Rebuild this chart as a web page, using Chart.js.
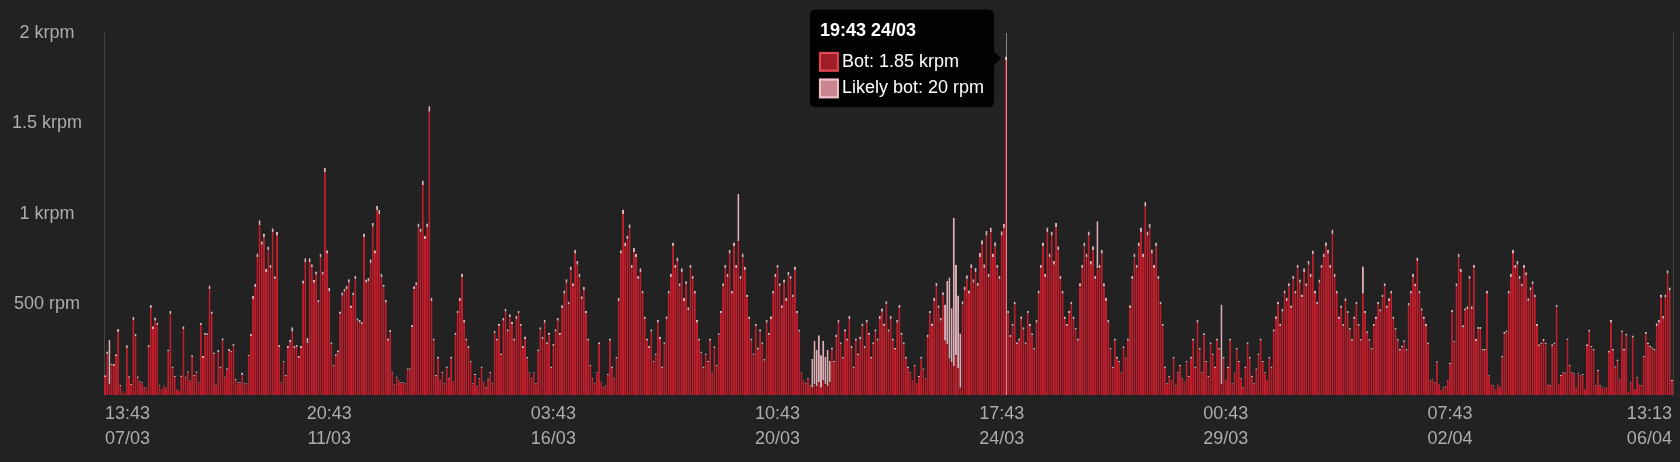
<!DOCTYPE html>
<html>
<head>
<meta charset="utf-8">
<script src="https://cdn.jsdelivr.net/npm/chart.js@4.4.1/dist/chart.umd.min.js"></script>
<style>
  html, body { margin: 0; padding: 0; background: #222; }
  #wrap { width: 1680px; height: 462px; position: relative; }
</style>
</head>
<body>
<div id="wrap"><canvas id="myChart"></canvas></div>
<script>
// requests per minute, one row per day (first bar = 13:43 07/03)
const botRpm = [
  100,225,60,165,160,215,345,50,20,10,260,96,55,415,325,96,70,65,40,37,265,478,365,410,
  385,52,28,48,37,240,446,150,100,28,20,100,365,96,123,75,210,105,123,65,385,205,330,330,
  585,446,225,52,237,150,300,96,140,243,235,270,83,65,65,110,60,60,213,325,530,595,760,940,
  830,870,680,800,700,900,640,880,265,65,180,105,260,290,350,260,265,205,260,615,735,285,735,705,
  620,665,510,760,665,1230,780,575,280,160,215,235,446,548,570,585,620,480,550,640,410,400,390,870,
  620,630,730,930,780,1020,1000,650,595,510,300,345,123,55,96,75,65,65,60,140,140,373,585,605,
  925,900,1160,860,925,1565,520,300,105,200,80,120,60,150,90,200,70,330,450,520,650,400,300,260,
  180,60,110,45,90,150,70,40,85,120,60,340,300,380,220,410,460,350,430,390,300,420,450,380,
  260,310,200,120,90,120,60,240,360,310,400,280,330,150,270,350,410,330,480,560,620,500,690,600,
  780,720,650,530,580,450,300,160,90,60,120,280,70,40,50,110,300,150,90,200,520,780,1000,820,
  860,920,700,790,760,640,680,560,420,300,260,350,180,220,400,310,150,280,420,560,650,820,700,740,
  600,680,520,610,470,700,640,560,400,300,230,150,220,180,300,120,260,160,330,450,600,700,650,780,
  560,820,700,850,640,760,690,540,420,300,220,380,250,350,280,190,400,330,420,560,650,700,600,480,
  620,520,660,640,540,690,450,350,120,80,60,90,50,40,60,50,70,40,80,60,50,70,250,180,
  320,400,280,200,350,300,420,260,150,300,220,310,380,260,400,330,200,280,350,300,420,460,380,500,
  350,420,300,250,400,480,330,280,200,150,120,80,160,60,100,200,140,90,320,450,380,520,600,480,
  410,550,300,280,200,180,160,220,150,40,500,580,640,560,700,620,680,600,760,830,700,880,650,900,
  760,820,700,640,880,920,1850,450,320,380,500,280,300,420,360,280,450,380,330,250,400,560,700,820,
  650,900,760,880,720,925,800,640,560,420,380,450,500,420,360,300,600,700,820,760,880,720,800,640,
  700,700,780,600,520,400,250,150,300,200,180,120,260,200,300,480,640,760,700,820,900,760,1040,880,
  920,780,700,820,640,500,380,150,60,100,80,200,50,120,160,90,70,180,100,200,300,150,400,250,
  120,330,180,100,280,220,150,300,250,60,200,80,150,300,60,120,250,180,90,40,150,280,200,100,
  60,140,220,300,180,120,80,200,150,350,420,500,380,460,560,520,600,480,640,560,700,620,540,680,
  600,720,650,777,560,500,620,700,760,820,780,700,890,650,560,420,480,380,520,450,360,300,420,500,
  380,300,560,450,340,300,250,380,420,500,460,540,600,480,520,560,420,360,300,244,262,290,244,493,
  560,650,600,740,560,465,420,382,280,77,86,68,178,59,22,40,46,77,170,456,290,600,760,680,
  373,465,475,640,475,700,299,364,364,244,244,560,105,59,50,31,59,40,207,336,345,560,650,780,
  700,720,640,600,700,660,520,580,610,540,382,271,280,299,280,59,50,271,280,484,59,105,123,118,
  303,160,123,114,40,118,105,110,31,271,350,262,244,50,133,50,40,40,40,234,400,244,151,188,
  86,345,244,327,18,68,317,31,96,59,50,207,336,280,262,253,244,382,400,537,421,537,670,576,
  78
];
const likelyBotRpm = [
  10,15,245,8,12,10,20,5,4,3,15,8,6,18,12,8,6,5,4,4,12,20,15,18,
  15,5,3,5,4,12,18,8,6,3,3,8,15,6,8,5,10,6,8,5,15,10,14,12,
  20,16,10,5,12,8,14,6,8,12,10,12,6,5,5,15,5,5,10,14,18,20,22,25,
  20,22,18,20,18,22,16,20,12,5,10,6,12,14,25,12,12,10,12,18,20,30,20,18,
  16,18,15,20,18,25,20,16,12,8,10,12,16,18,16,18,20,15,16,18,14,14,12,22,
  18,16,20,22,20,25,22,18,16,15,12,14,6,5,6,5,5,5,5,8,8,14,16,18,
  22,20,25,20,22,30,16,12,6,10,5,8,5,8,6,10,5,14,16,18,20,15,12,12,
  10,5,6,4,6,8,5,4,6,8,5,14,12,14,10,15,16,14,16,15,12,16,16,14,
  12,14,10,6,5,6,5,12,14,12,15,12,14,8,12,14,16,14,16,18,20,16,20,18,
  22,20,18,16,18,15,12,8,5,5,6,12,5,4,4,6,12,8,5,10,16,20,25,22,
  22,24,20,22,20,18,20,16,14,12,12,14,10,10,15,12,8,12,15,16,18,22,20,20,
  18,20,16,18,15,20,18,16,14,12,10,8,10,10,12,6,10,8,12,15,18,20,18,22,
  16,22,20,260,18,22,20,16,14,12,10,14,12,14,12,10,15,14,15,16,18,20,18,16,
  18,16,20,18,16,20,14,12,6,5,5,5,4,160,240,200,260,180,220,150,200,120,12,10,
  14,15,12,10,14,12,16,12,8,12,10,14,15,12,15,14,10,12,14,12,16,18,15,18,
  14,16,12,10,15,18,14,12,10,8,6,5,8,4,6,10,8,5,14,16,15,18,20,16,
  15,18,200,350,450,300,820,500,400,300,18,20,22,18,22,20,22,20,24,25,22,26,20,26,
  22,24,20,18,25,26,20,16,12,14,16,12,12,15,14,12,16,14,12,10,14,18,20,22,
  20,25,22,24,20,26,22,18,16,14,12,15,16,14,12,12,18,20,22,20,24,20,22,18,
  260,20,22,18,16,14,10,8,12,10,8,6,10,8,12,16,18,22,20,22,25,22,28,24,
  25,22,20,22,18,16,14,8,5,6,5,10,4,6,8,5,5,8,6,10,12,8,14,10,
  6,12,8,6,12,10,8,12,10,440,10,5,8,12,5,6,10,8,5,4,8,12,10,6,
  5,8,10,12,8,6,5,10,8,14,15,16,14,16,18,16,18,15,18,16,20,18,16,20,
  18,20,18,22,16,15,18,20,22,24,22,20,25,18,16,14,15,12,15,14,12,10,14,16,
  12,10,150,14,12,10,10,12,14,15,14,16,18,14,15,16,14,12,10,10,10,12,10,16,
  16,18,16,20,16,14,14,12,10,5,5,4,8,4,3,4,4,5,8,15,10,18,20,18,
  12,15,15,18,15,20,10,12,12,10,10,16,5,4,4,3,4,3,8,12,12,16,18,22,
  20,20,18,16,20,18,15,16,18,15,12,10,10,10,10,4,4,10,10,15,4,6,6,6,
  10,8,6,6,3,6,5,6,3,10,12,10,10,4,6,4,3,3,3,10,14,10,8,8,
  5,12,10,12,2,4,12,3,5,4,4,8,12,10,10,10,10,14,14,18,15,18,20,18,
  5
];
const yTicks = [500, 1000, 1500, 2000];
const tickEvery = 103;   // hours between x labels
const hoverIndex = 414;  // 19:43 24/03

// hourly labels from 13:43 07/03, the last sample is the current partial one
const labels = [];
const start = Date.UTC(2024, 2, 7, 13, 43);
function pad(n) { return String(n).padStart(2, '0'); }
for (let i = 0; i < 720; i++) {
  const d = new Date(start + i * 3600000);
  labels.push([pad(d.getUTCHours()) + ':' + pad(d.getUTCMinutes()), pad(d.getUTCDate()) + '/' + pad(d.getUTCMonth() + 1)]);
}
labels.push(['13:13', '06/04']);
const lastIndex = labels.length - 1;

function rpm(v) {
  if (v >= 1000) return (Math.round(v / 10) / 100) + ' krpm';
  return v + ' rpm';
}

Chart.defaults.font.family = '"Liberation Sans", Helvetica, Arial, sans-serif';
Chart.defaults.font.size = 18;
Chart.defaults.color = '#adadad';

const hoverLine = {
  id: 'hoverLine',
  afterDatasetsDraw(chart) {
    const act = chart.tooltip.getActiveElements();
    if (!act.length) return;
    const x = Math.round(act[0].element.x) + 0.5;
    const area = chart.chartArea;
    const ctx = chart.ctx;
    ctx.save();
    ctx.strokeStyle = 'rgba(255,255,255,0.45)';
    ctx.lineWidth = 1;
    ctx.beginPath();
    ctx.moveTo(x, area.top);
    ctx.lineTo(x, area.bottom);
    ctx.stroke();
    ctx.restore();
  }
};

const swatches = [
  { backgroundColor: '#a01c28', borderColor: '#e2414d' },
  { backgroundColor: '#c8858f', borderColor: '#efc0c6' }
];

var ctx = document.getElementById('myChart').getContext('2d');
var myChart = new Chart(ctx, {
  type: 'bar',
  data: {
    labels: labels,
    datasets: [{
      label: 'Bot',
      data: botRpm,
      backgroundColor: '#8a141e',
      borderColor: '#c21d2b',
      borderWidth: 1
    }, {
      label: 'Likely bot',
      data: likelyBotRpm,
      backgroundColor: '#b07880',
      borderColor: '#deb0b6',
      borderWidth: 1
    }]
  },
  plugins: [hoverLine],
  options: {
    responsive: true,
    maintainAspectRatio: false,
    animation: false,
    events: [],
    layout: { padding: { top: 33, right: 7, bottom: 4, left: 0 } },
    datasets: { bar: { categoryPercentage: 1, barPercentage: 0.92 } },
    interaction: { mode: 'index', intersect: false },
    scales: {
      x: {
        stacked: true,
        grid: { display: false, drawTicks: false },
        border: { display: false },
        afterBuildTicks(scale) {
          scale.ticks = scale.ticks.filter(t => t.value % tickEvery === 0 || t.value === lastIndex);
        },
        ticks: {
          autoSkip: false,
          maxRotation: 0,
          minRotation: 0,
          align: 'inner',
          padding: 7,
          font: { size: 18, lineHeight: 1.36 }
        }
      },
      y: {
        stacked: true,
        min: 0,
        max: yTicks[yTicks.length - 1],
        grid: { display: false, drawTicks: false },
        border: { display: true, color: '#444' },
        afterFit(scale) { scale.width = 104; },
        ticks: {
          stepSize: yTicks[0],
          crossAlign: 'center',
          padding: 22,
          callback: v => (v === 0 ? null : rpm(v))
        }
      },
      yRight: {
        position: 'right',
        min: 0,
        max: yTicks[yTicks.length - 1],
        grid: { display: false, drawTicks: false },
        border: { display: true, color: '#444' },
        ticks: { display: false }
      }
    },
    plugins: {
      legend: { display: false },
      tooltip: {
        enabled: true,
        position: 'average',
        xAlign: 'right',
        yAlign: 'center',
        backgroundColor: 'rgba(0,0,0,0.92)',
        titleColor: '#fff',
        bodyColor: '#fff',
        titleFont: { size: 18, weight: 'bold' },
        bodyFont: { size: 18 },
        padding: { top: 11, bottom: 8, left: 10, right: 10 },
        titleMarginBottom: 9,
        bodySpacing: 5,
        caretSize: 7,
        caretPadding: 5,
        cornerRadius: 6,
        boxWidth: 18,
        boxHeight: 18,
        boxPadding: 2,
        callbacks: {
          title: items => labels[items[0].dataIndex].join(' '),
          label: item => item.dataset.label + ': ' + rpm(item.raw),
          labelColor: item => ({
            backgroundColor: swatches[item.datasetIndex].backgroundColor,
            borderColor: swatches[item.datasetIndex].borderColor,
            borderWidth: 2
          })
        }
      }
    }
  }
});

myChart.tooltip.setActiveElements([
  { datasetIndex: 0, index: hoverIndex },
  { datasetIndex: 1, index: hoverIndex }
], { x: 0, y: 0 });
myChart.update();
</script>
</body>
</html>
